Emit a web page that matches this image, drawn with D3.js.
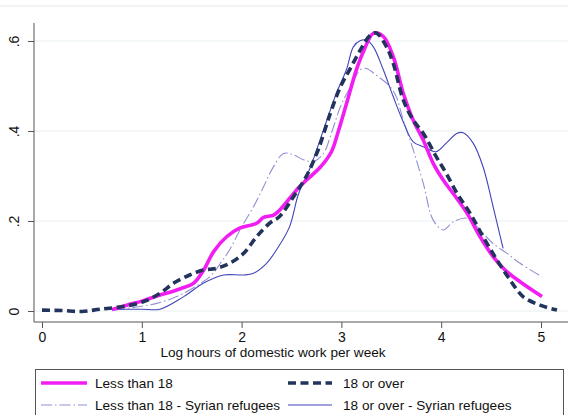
<!DOCTYPE html>
<html>
<head>
<meta charset="utf-8">
<script src="https://cdn.jsdelivr.net/npm/d3@7"></script>
<style>
  body { margin: 0; background: #fff; }
  text { font-family: "Liberation Sans", Arial, sans-serif; fill: #111; }
</style>
</head>
<body>
<div id="chart-area"></div>
<script>
// density curves: x = log hours, y = density
const lt18X = [0.70, 0.85, 1.0, 1.15, 1.38, 1.52, 1.62, 1.72, 1.85, 1.98, 2.15, 2.22, 2.32, 2.38, 2.48, 2.58, 2.65, 2.79, 2.90, 2.97, 3.05, 3.15, 3.22, 3.32, 3.42, 3.52, 3.62, 3.72, 3.82, 3.92, 4.02, 4.12, 4.26, 4.39, 4.52, 4.64, 4.79, 5.01];
const lt18Y = [0.003, 0.013, 0.022, 0.033, 0.049, 0.062, 0.091, 0.132, 0.165, 0.184, 0.195, 0.208, 0.213, 0.224, 0.25, 0.276, 0.291, 0.32, 0.354, 0.40, 0.46, 0.536, 0.576, 0.617, 0.61, 0.565, 0.484, 0.424, 0.38, 0.328, 0.291, 0.261, 0.217, 0.165, 0.121, 0.091, 0.065, 0.032];

const ge18X = [0, 0.2, 0.4, 0.58, 0.81, 1.02, 1.18, 1.32, 1.48, 1.62, 1.75, 1.88, 2.02, 2.15, 2.28, 2.38, 2.52, 2.65, 2.77, 2.89, 2.99, 3.09, 3.19, 3.29, 3.35, 3.45, 3.52, 3.62, 3.72, 3.82, 3.95, 4.05, 4.16, 4.29, 4.42, 4.56, 4.69, 4.82, 4.99, 5.16];
const ge18Y = [0.002, 0.001, -0.001, 0.004, 0.01, 0.021, 0.039, 0.062, 0.08, 0.091, 0.095, 0.106, 0.128, 0.165, 0.195, 0.21, 0.254, 0.30, 0.36, 0.44, 0.498, 0.539, 0.58, 0.613, 0.618, 0.588, 0.55, 0.469, 0.424, 0.395, 0.343, 0.306, 0.261, 0.217, 0.165, 0.113, 0.069, 0.032, 0.013, 0.002];

const lt18SyrX = [0.72, 0.95, 1.15, 1.35, 1.58, 1.70, 1.80, 1.88, 2.0, 2.12, 2.22, 2.30, 2.42, 2.52, 2.62, 2.72, 2.82, 2.90, 2.99, 3.09, 3.19, 3.25, 3.35, 3.49, 3.55, 3.62, 3.72, 3.82, 3.92, 4.02, 4.12, 4.26, 4.39, 4.52, 4.66, 4.79, 5.01];
const lt18SyrY = [0.002, 0.009, 0.017, 0.032, 0.06, 0.08, 0.11, 0.136, 0.187, 0.232, 0.276, 0.313, 0.35, 0.347, 0.336, 0.332, 0.35, 0.395, 0.454, 0.498, 0.536, 0.539, 0.524, 0.498, 0.476, 0.424, 0.358, 0.284, 0.202, 0.18, 0.198, 0.206, 0.18, 0.15, 0.128, 0.106, 0.076];

const ge18SyrX = [0.72, 1.0, 1.18, 1.42, 1.62, 1.82, 2.02, 2.12, 2.25, 2.35, 2.48, 2.57, 2.69, 2.82, 2.95, 3.05, 3.12, 3.19, 3.25, 3.32, 3.42, 3.52, 3.62, 3.72, 3.82, 3.95, 4.05, 4.16, 4.22, 4.32, 4.42, 4.52, 4.62];
const ge18SyrY = [0.004, 0.004, 0.004, 0.032, 0.062, 0.08, 0.08, 0.084, 0.106, 0.136, 0.187, 0.26, 0.32, 0.402, 0.484, 0.536, 0.587, 0.601, 0.602, 0.587, 0.536, 0.476, 0.42, 0.376, 0.365, 0.354, 0.373, 0.395, 0.396, 0.373, 0.32, 0.232, 0.139];

const xTicks = [0, 1, 2, 3, 4, 5];
const yTicks = [0, 0.2, 0.4, 0.6];
const labels = ["Less than 18", "18 or over", "Less than 18 - Syrian refugees", "18 or over - Syrian refugees"];

const series = [
    {name: labels[0], xs: lt18X, ys: lt18Y, color: '#f21df2', width: 3.6, dash: null},
    {name: labels[1], xs: ge18X, ys: ge18Y, color: '#22335c', width: 3.6, dash: '8,4.5'},
    {name: labels[2], xs: lt18SyrX, ys: lt18SyrY, color: '#9090d4', width: 1.1, dash: '11,3,1.5,3'},
    {name: labels[3], xs: ge18SyrX, ys: ge18SyrY, color: '#4444bb', width: 1.1, dash: null}
];
// thin ones first, thick on top
const drawOrder = [2, 3, 0, 1];
const fs = 13.6;

const svg = d3.select("#chart-area").append('svg')
                .attr("width", 578)
                .attr("height", 415);

const x = d3.scaleLinear().domain([0, 5]).range([42, 541]);
const y = d3.scaleLinear().domain([0, 0.6]).range([311, 41]);

// faint outer line at top
svg.append('line')
    .attr('x1', 0).attr('x2', 568)
    .attr('y1', 6).attr('y2', 6)
    .attr('stroke', '#eef2f4').attr('stroke-width', 1.5);

// gridlines
svg.selectAll('.grid')
    .data(yTicks).enter()
        .append('line')
            .attr('x1', 34).attr('x2', 568)
            .attr('y1', d => y(d)).attr('y2', d => y(d))
            .attr('stroke', '#e9eff2')
            .attr('stroke-width', 1.2);

// axes
const xAxis = svg.append('g')
    .attr('transform', 'translate(0,322)')
    .call(d3.axisBottom(x).tickValues(xTicks).tickSize(6).tickPadding(4).tickFormat(d3.format('d')));
xAxis.select('.domain').remove();
xAxis.selectAll('line').attr('stroke', '#555');
xAxis.selectAll('text').attr('font-size', 14).attr('fill', '#111');
svg.append('line')
    .attr('x1', 34).attr('x2', 568)
    .attr('y1', 322).attr('y2', 322)
    .attr('stroke', '#555');

const yAxis = svg.append('g')
    .attr('transform', 'translate(34,0)')
    .call(d3.axisLeft(y).tickValues(yTicks).tickSize(6)
        .tickFormat(d => d === 0 ? '0' : String(d).replace(/^0/, '')));
yAxis.select('.domain').remove();
yAxis.selectAll('line').attr('stroke', '#555');
yAxis.selectAll('text')
    .attr('x', null).attr('dy', null)
    .attr('font-size', 14)
    .attr('text-anchor', 'middle')
    .attr('dominant-baseline', 'central')
    .attr('transform', 'translate(-20,0) rotate(-90)');
svg.append('line')
    .attr('x1', 34).attr('x2', 34)
    .attr('y1', 23).attr('y2', 322)
    .attr('stroke', '#555');

svg.append('text')
    .attr('x', 273).attr('y', 357)
    .attr('text-anchor', 'middle')
    .attr('font-size', fs)
    .text('Log hours of domestic work per week');

// curves
const line = d3.line()
    .x(d => x(d[0]))
    .y(d => y(d[1]))
    .curve(d3.curveCatmullRom.alpha(0.5));

svg.selectAll('.curve')
    .data(drawOrder.map(i => series[i])).enter()
        .append('path')
            .attr('d', s => line(s.xs.map((v, i) => [v, s.ys[i]])))
            .attr('fill', 'none')
            .attr('stroke', s => s.color)
            .attr('stroke-width', s => s.width)
            .attr('stroke-dasharray', s => s.dash)
            .attr('stroke-linejoin', 'round');

// legend
svg.append('rect')
    .attr('x', 35.5).attr('y', 369.5)
    .attr('width', 528).attr('height', 60)
    .attr('fill', '#fff')
    .attr('stroke', '#555');

const legPos = [[41, 383], [288, 383], [41, 405], [288, 405]];
const leg = svg.selectAll('.leg')
    .data(series).enter()
        .append('g')
            .attr('transform', (d, i) => `translate(${legPos[i][0]},${legPos[i][1]})`);
leg.append('line')
    .attr('x1', 0).attr('x2', (d, i) => i % 2 === 0 ? 46 : 44)
    .attr('y1', 0).attr('y2', 0)
    .attr('stroke', d => d.color)
    .attr('stroke-width', d => d.width)
    .attr('stroke-dasharray', d => d.dash);
leg.append('text')
    .attr('x', (d, i) => i % 2 === 0 ? 54 : 55)
    .attr('y', 0)
    .attr('dy', '0.35em')
    .attr('font-size', fs)
    .text(d => d.name);
</script>
</body>
</html>
